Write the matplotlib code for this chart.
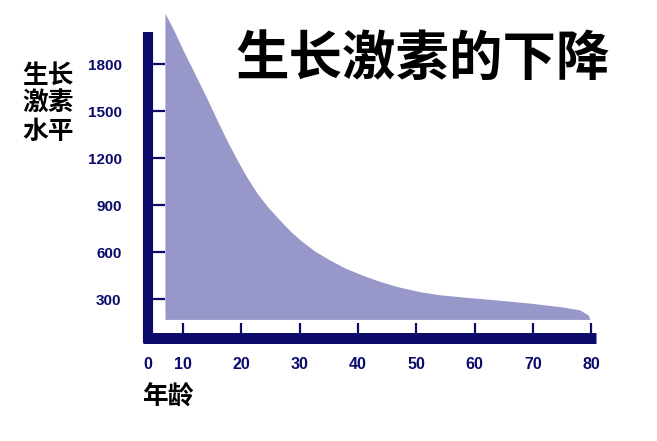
import matplotlib.pyplot as plt

plt.rcParams['font.family'] = ['Noto Sans CJK SC', 'DejaVu Sans']

# curve (age, growth hormone level)
ages = [6.9, 8.5, 10, 12, 14, 16, 17.5, 19.3, 21, 22.7, 24.5, 26.6, 28.3, 30.1,
        32.6, 35.2, 37.8, 40.8, 43.8, 46.7, 50.6, 54.1, 58, 63.9, 69.5, 75.2,
        78.1, 79.5, 79.8]
levels = [2125, 2010, 1889, 1740, 1589, 1430, 1315, 1187, 1075, 976, 890, 804,
          738, 677, 606, 549, 498, 452, 412, 380, 347, 327, 313, 294, 274, 249,
          230, 198, 170]
base_level = 170

x_ticks = [4, 10, 20, 30, 40, 50, 60, 70, 80]
x_labels = ['0', '10', '20', '30', '40', '50', '60', '70', '80']
y_ticks = [300, 600, 900, 1200, 1500, 1800]

title = '生长激素的下降'
y_title = '生长\n激素\n水平'
x_title = '年龄'

navy = '#0b0b6b'
fill_col = '#9897c9'

fig = plt.figure(figsize=(6.57, 4.41), dpi=100)
ax = fig.add_axes([0.1898, 0.1798, 0.7543, 0.817])
ax.set_xlim(0, 85)
ax.set_ylim(-100, 2200)

ax.fill_between(ages, base_level, levels, color=fill_col, linewidth=0, zorder=1)

for s in ['top', 'right']:
    ax.spines[s].set_visible(False)
ax.spines['left'].set_position(('data', 4))
ax.spines['bottom'].set_position(('data', 54))
ax.spines['left'].set_bounds(19, 2004)
ax.spines['bottom'].set_bounds(3.1, 80.8)
ax.spines['left'].set_linewidth(7.3)
ax.spines['bottom'].set_linewidth(7.9)
for s in ['left', 'bottom']:
    ax.spines[s].set_color(navy)
    ax.spines[s].set_capstyle('butt')
    ax.spines[s].set_zorder(3)

ax.set_xticks(x_ticks)
ax.set_xticklabels(x_labels)
ax.set_yticks(y_ticks)
ax.tick_params(axis='x', direction='in', length=11, width=1.6, color=navy,
               pad=14, labelcolor=navy, labelsize=11.5)
ax.tick_params(axis='y', direction='in', length=12, width=1.6, color=navy,
               pad=19, labelcolor=navy, labelsize=11)
for lab in ax.get_xticklabels() + ax.get_yticklabels():
    lab.set_fontfamily(['Liberation Sans', 'DejaVu Sans'])
    lab.set_fontweight('bold')

fig.text(423 / 657, 1 - 59 / 441, title, fontsize=38.5, fontweight='bold',
         ha='center', va='center', color='black')
fig.text(48 / 657, 1 - 103 / 441, y_title, fontsize=18.5, fontweight='bold',
         ha='center', va='center', linespacing=1.05, color='black')
fig.text(168 / 657, 1 - 397 / 441, x_title, fontsize=18.5, fontweight='bold',
         ha='center', va='center', color='black')

fig.savefig('out.png', dpi=100)
